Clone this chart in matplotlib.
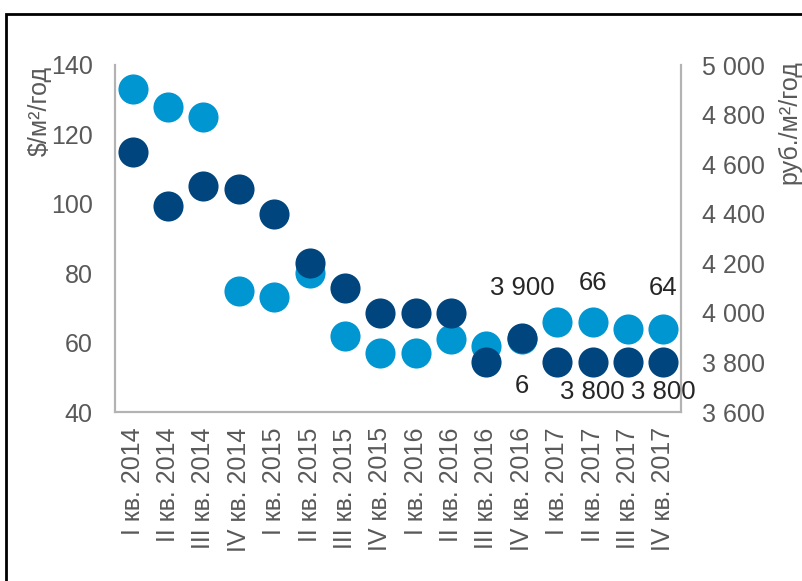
import numpy as np
import matplotlib.pyplot as plt
from matplotlib.patches import Rectangle

plt.rcParams['font.family'] = ['Liberation Sans', 'DejaVu Sans']

quarters = ['I кв. 2014', 'II кв. 2014', 'III кв. 2014', 'IV кв. 2014',
            'I кв. 2015', 'II кв. 2015', 'III кв. 2015', 'IV кв. 2015',
            'I кв. 2016', 'II кв. 2016', 'III кв. 2016', 'IV кв. 2016',
            'I кв. 2017', 'II кв. 2017', 'III кв. 2017', 'IV кв. 2017']
# $/m2/year (left axis)
usd = [133, 128, 125, 75, 73, 80, 62, 57, 57, 61, 59, 61, 66, 66, 64, 64]
# rub/m2/year (right axis)
rub = [4650, 4430, 4510, 4500, 4400, 4200, 4100, 4000, 4000, 4000, 3800, 3900,
       3800, 3800, 3800, 3800]

# data labels: (index, text, offset in points)
usd_labels = [(11, '6', -34), (13, '66', 28), (15, '64', 29)]
rub_labels = [(11, '3 900', 36), (13, '3 800', -21), (15, '3 800', -21)]

light = '#0096D1'
dark = '#00457D'
grey = '#595959'
spine_c = '#B3B3B3'

fig = plt.figure(figsize=(8.03, 5.81), dpi=100)
ax = fig.add_axes([115/803, 1-412/581, 566/803, 347/581])
ax2 = ax.twinx()

x = np.arange(len(quarters))
ax.scatter(x, usd, s=470, color=light, linewidths=0, zorder=3)
ax2.scatter(x, rub, s=470, color=dark, linewidths=0, zorder=3)

ax.set_xlim(-0.5, len(quarters) - 0.5)
ax.set_ylim(40, 140)
ax.set_yticks(range(40, 141, 20))
ax2.set_ylim(3600, 5000)
ax2.set_yticks(range(3600, 5001, 200))
ax2.set_yticklabels([f'{v:,}'.replace(',', ' ') for v in range(3600, 5001, 200)])
ax.set_xticks(x)
ax.set_xticklabels(quarters, rotation=90)

for a in (ax, ax2):
    a.tick_params(length=0, labelsize=18, labelcolor=grey)
    a.spines['top'].set_visible(False)
    for s in ('left', 'right', 'bottom'):
        a.spines[s].set_color(spine_c)
        a.spines[s].set_linewidth(1.5)
ax.tick_params(axis='y', pad=16)
ax.tick_params(axis='x', pad=11)
ax2.tick_params(axis='y', pad=15)

fig.text(40/803, 1-111/581, '$/м²/год', fontsize=18, color=grey,
         rotation=90, ha='center', va='center')
fig.text(789/803, 1-122/581, 'руб./м²/год', fontsize=18, color=grey,
         rotation=90, ha='center', va='center')

for i, t, dy in usd_labels:
    ax.annotate(t, (x[i], usd[i]), xytext=(0, dy), textcoords='offset points',
                ha='center', va='center', fontsize=18.5, color='#262626', zorder=5)
for i, t, dy in rub_labels:
    ax2.annotate(t, (x[i], rub[i]), xytext=(0, dy), textcoords='offset points',
                 ha='center', va='center', fontsize=18.5, color='#262626', zorder=5)

fig.patches.append(Rectangle((6/803, -0.1), 1.2, 0.1 + 1 - 14/581,
                             transform=fig.transFigure, fill=False,
                             edgecolor='black', linewidth=2))

fig.savefig('out.png', dpi=100)
